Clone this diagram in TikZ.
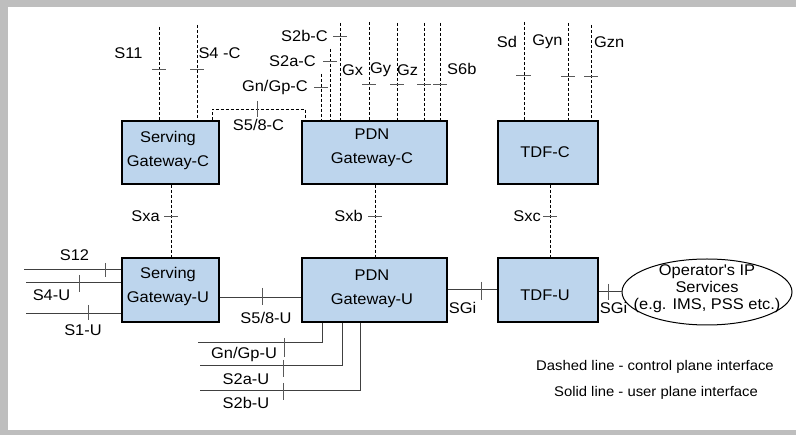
\documentclass[tikz,border=0pt]{standalone}
\usepackage{fontspec}
\setmainfont[FakeStretch=1.06]{Liberation Sans}
\usetikzlibrary{shapes.geometric}
\definecolor{boxblue}{HTML}{BDD5ED}
\definecolor{framegray}{HTML}{BEBEBE}
\begin{document}
\begin{tikzpicture}[x=1pt,y=-1pt,
  box/.style={draw=black,line width=1.4pt,fill=boxblue,inner sep=0pt},
  boxtext/.style={inner sep=0pt,align=center,font=\fontsize{15.5}{24}\selectfont},
  ctrl/.style={dash pattern=on 3pt off 2pt,line width=0.9pt,black},
  user/.style={line width=1pt,draw=black!75},
  tick/.style={line width=0.8pt,draw=black!65},
  lbl/.style={inner sep=0pt,font=\fontsize{15.5}{18}\selectfont},
  legend/.style={inner sep=0pt,font=\fontsize{14}{16}\selectfont}]
\useasboundingbox (0,0) rectangle (796,435);
\fill[framegray] (0,0) rectangle (796,435);
\fill[white] (8,7) rectangle (796,430);

% boxes
\node[box,minimum width=97pt,minimum height=63pt] (sgwc) at (170.5,152.5) {};
\node[box,minimum width=145pt,minimum height=63pt] (pgwc) at (374.5,152.5) {};
\node[box,minimum width=100pt,minimum height=63pt] (tdfc) at (548,152.5) {};
\node[box,minimum width=97pt,minimum height=64pt] (sgwu) at (170.5,290) {};
\node[box,minimum width=145pt,minimum height=64pt] (pgwu) at (374.5,290) {};
\node[box,minimum width=100pt,minimum height=64pt] (tdfu) at (548,290) {};
\node[draw,ellipse,line width=1pt,minimum width=170pt,minimum height=66pt,inner sep=0pt] (ops) at (707,292) {};

\node[boxtext] (sgwct) at (168,150) {Serving\\Gateway-C};
\node[boxtext] (pgwct) at (372,148) {PDN\\Gateway-C};
\node[boxtext] (tdfct) at (545,152) {TDF-C};
\node[boxtext] (sgwut) at (168,286.5) {Serving\\Gateway-U};
\node[boxtext] (pgwut) at (372,288.5) {PDN\\Gateway-U};
\node[boxtext] (tdfut) at (545,295) {TDF-U};
\node[inner sep=0pt,align=center,font=\fontsize{15.5}{17}\selectfont] (opst) at (707,289) {Operator\textquotesingle s IP\\Services\\(e.g. IMS, PSS etc.)};

% Serving Gateway-C control interfaces
\coordinate (s11t) at (159,27);
\draw[ctrl] (s11t) -- (s11t |- sgwc.north);
\draw[tick] (152,69) -- (166,69);
\node[lbl] (s11) at (128.5,53) {S11};
\coordinate (s4t) at (197,25);
\draw[ctrl] (s4t) -- (s4t |- sgwc.north);
\draw[tick] (190,69) -- (204,69);
\node[lbl] (s4c) at (219.5,53) {S4 -C};

\coordinate (s58l) at (212,109);
\coordinate (s58r) at (305,109);
\draw[ctrl] (s58l |- sgwc.north) -- (s58l) -- (s58r) -- (s58r |- pgwc.north);
\draw[tick] (257,101) -- (257,117);
\node[lbl] (s58c) at (258.5,125) {S5/8-C};

% PDN Gateway-C control interfaces
\coordinate (gnct) at (321,74);
\draw[ctrl] (gnct) -- (gnct |- pgwc.north);
\draw[tick] (314,87) -- (328,87);
\node[lbl,anchor=east] (gnc) at (308,87) {Gn/Gp-C};
\coordinate (s2act) at (330,49);
\draw[ctrl] (s2act) -- (s2act |- pgwc.north);
\draw[tick] (323,61) -- (337,61);
\node[lbl,anchor=east] (s2ac) at (316,61) {S2a-C};
\coordinate (s2bct) at (340,23);
\draw[ctrl] (s2bct) -- (s2bct |- pgwc.north);
\draw[tick] (333,36) -- (347,36);
\node[lbl,anchor=east] (s2bc) at (328,36) {S2b-C};
\coordinate (gxt) at (369,22);
\draw[ctrl] (gxt) -- (gxt |- pgwc.north);
\draw[tick] (362,84) -- (376,84);
\node[lbl] (gx) at (352.5,70) {Gx};
\coordinate (gyt) at (397,23);
\draw[ctrl] (gyt) -- (gyt |- pgwc.north);
\draw[tick] (390,84) -- (404,84);
\node[lbl] (gy) at (380.5,70) {Gy};
\coordinate (gzt) at (424,23);
\draw[ctrl] (gzt) -- (gzt |- pgwc.north);
\draw[tick] (417,84) -- (431,84);
\node[lbl] (gz) at (407.5,70) {Gz};
\coordinate (s6bt) at (440,23);
\draw[ctrl] (s6bt) -- (s6bt |- pgwc.north);
\draw[tick] (433,84) -- (447,84);
\node[lbl,anchor=west] (s6b) at (447,69) {S6b};

% TDF-C control interfaces
\coordinate (sdt) at (524,22);
\draw[ctrl] (sdt) -- (sdt |- tdfc.north);
\draw[tick] (516,75) -- (531,75);
\node[lbl] (sd) at (507,42) {Sd};
\coordinate (gynt) at (568,23);
\draw[ctrl] (gynt) -- (gynt |- tdfc.north);
\draw[tick] (561,76) -- (575,76);
\node[lbl] (gyn) at (547.5,42) {Gyn};
\coordinate (gznt) at (591,25);
\draw[ctrl] (gznt) -- (gznt |- tdfc.north);
\draw[tick] (584,76) -- (598,76);
\node[lbl,anchor=west] (gzn) at (594,42) {Gzn};

% Sx interfaces
\coordinate (sxa) at (171,216);
\draw[ctrl] (sxa |- sgwc.south) -- (sxa |- sgwu.north);
\draw[tick] (164,216) -- (178,216);
\node[lbl,anchor=east] (sxal) at (160,216) {Sxa};
\coordinate (sxb) at (375,216);
\draw[ctrl] (sxb |- pgwc.south) -- (sxb |- pgwu.north);
\draw[tick] (368,216) -- (382,216);
\node[lbl,anchor=east] (sxbl) at (363,216) {Sxb};
\coordinate (sxc) at (550,216);
\draw[ctrl] (sxc |- tdfc.south) -- (sxc |- tdfu.north);
\draw[tick] (543,216) -- (557,216);
\node[lbl,anchor=east] (sxcl) at (541,216) {Sxc};

% Serving Gateway-U user plane
\coordinate (s12l) at (24,270);
\draw[user] (s12l) -- (s12l -| sgwu.west);
\draw[tick] (105,263) -- (105,277);
\node[lbl] (s12) at (74.5,255) {S12};
\coordinate (s4ul) at (26,283);
\draw[user] (s4ul) -- (s4ul -| sgwu.west);
\draw[tick] (79,275) -- (79,292);
\node[lbl] (s4u) at (51.5,295) {S4-U};
\coordinate (s1ul) at (26,314);
\draw[user] (s1ul) -- (s1ul -| sgwu.west);
\draw[tick] (88,305) -- (88,320);
\node[lbl] (s1u) at (83,330) {S1-U};

\coordinate (s58u) at (262,298);
\draw[user] (s58u -| sgwu.east) -- (s58u -| pgwu.west);
\draw[tick] (262,288) -- (262,305);
\node[lbl] (s58ul) at (266,318) {S5/8-U};

% PDN Gateway-U user plane
\coordinate (gnu) at (322,343);
\coordinate (gnul) at (198,343);
\draw[user] (gnu |- pgwu.south) -- (gnu) -- (gnul);
\draw[tick] (284,338) -- (284,357);
\node[lbl] (gnuL) at (244,354) {Gn/Gp-U};
\coordinate (s2au) at (342,366);
\coordinate (s2aul) at (200,366);
\draw[user] (s2au |- pgwu.south) -- (s2au) -- (s2aul);
\draw[tick] (283,360) -- (283,377);
\node[lbl] (s2auL) at (246,379) {S2a-U};
\coordinate (s2bu) at (360,391);
\coordinate (s2bul) at (200,391);
\draw[user] (s2bu |- pgwu.south) -- (s2bu) -- (s2bul);
\draw[tick] (283,383) -- (283,400);
\node[lbl] (s2buL) at (246,403) {S2b-U};

% SGi
\coordinate (sgi1) at (481,290);
\draw[user] (sgi1 -| pgwu.east) -- (sgi1 -| tdfu.west);
\draw[tick] (481,282) -- (481,300);
\node[lbl] (sgi1l) at (462.5,308) {SGi};
\draw[user] (tdfu.east |- ops.west) -- (ops.west);
\draw[tick] (608,284) -- (608,300);
\node[lbl] (sgi2l) at (613.5,308) {SGi};

% legend
\node[legend] (leg1) at (655,367) {Dashed line - control plane interface};
\node[legend] (leg2) at (656,393) {Solid line - user plane interface};
\end{tikzpicture}
\end{document}
